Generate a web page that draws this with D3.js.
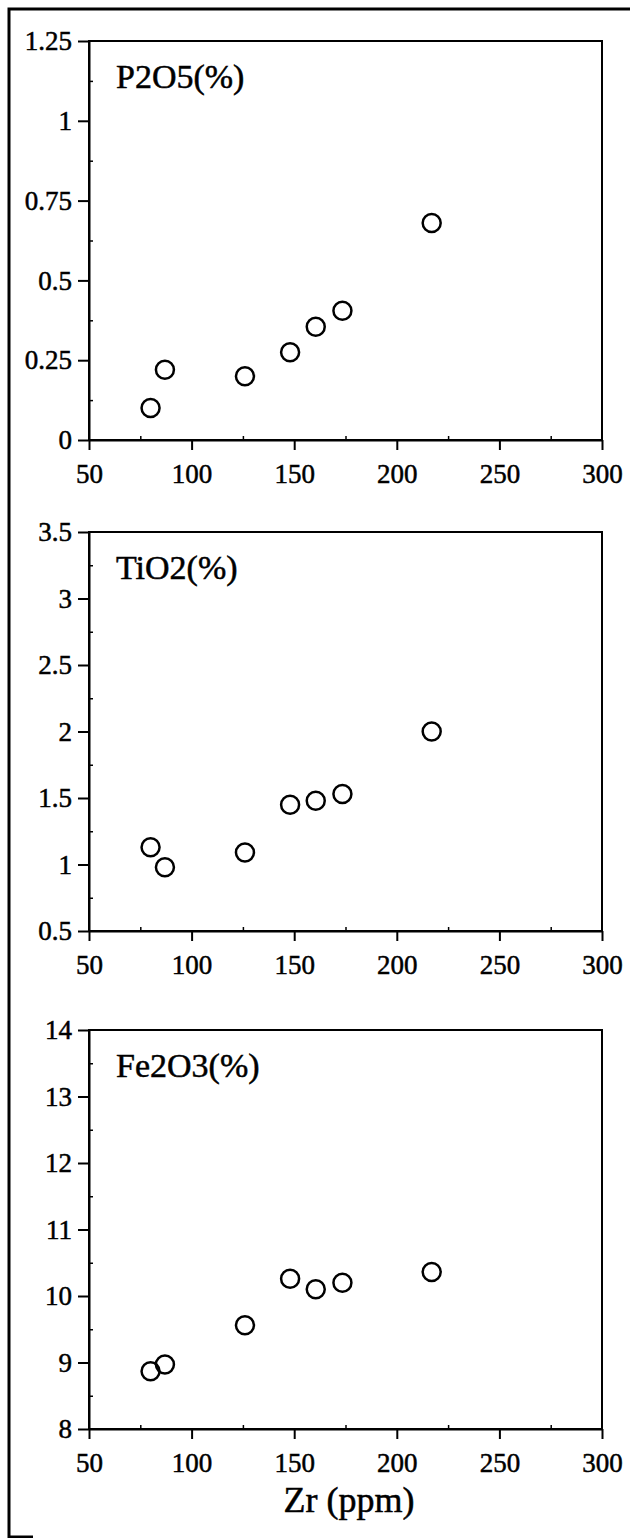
<!DOCTYPE html>
<html>
<head>
<meta charset="utf-8">
<script src="https://cdn.jsdelivr.net/npm/d3@7"></script>
<style>
    body { margin: 0; background: #fff; }
    svg text { font-family: "Liberation Serif", "Times New Roman", serif; fill: #000; stroke: #000; stroke-width: 0.5px; }
</style>
</head>
<body>
<div id="chart"></div>
<script>
// Zr (ppm) for the seven samples, shared by all three panels
const zr = [80, 87, 126, 148, 160.5, 173.5, 217];

const p2o5 = [0.10, 0.22, 0.20, 0.275, 0.355, 0.405, 0.68];
const tio2 = [1.13, 0.98, 1.09, 1.45, 1.48, 1.53, 2.00];
const fe2o3 = [8.87, 8.97, 9.56, 10.26, 10.10, 10.20, 10.36];

const xTicks = [50, 100, 150, 200, 250, 300];
const p2o5Ticks = [0, 0.25, 0.5, 0.75, 1, 1.25];
const tio2Ticks = [0.5, 1, 1.5, 2, 2.5, 3, 3.5];
const fe2o3Ticks = [8, 9, 10, 11, 12, 13, 14];

const panelTitles = ["P2O5(%)", "TiO2(%)", "Fe2O3(%)"];

class ScatterPanel {
    constructor(svg, top, title, values, yTicks) {
        this.svg = svg;
        this.top = top;
        this.title = title;
        this.values = values;
        this.yTicks = yTicks;
        this.initVis();
    }

    initVis() {
        let vis = this;

        vis.left = 89;
        vis.width = 513;
        vis.height = 399;

        vis.g = vis.svg.append("g")
            .attr("transform", "translate(" + vis.left + "," + vis.top + ")");

        vis.x = d3.scaleLinear()
            .domain([50, 300])
            .range([0, vis.width]);

        vis.y = d3.scaleLinear()
            .domain(d3.extent(vis.yTicks))
            .range([vis.height, 0]);

        // box round the plot
        vis.g.append("rect")
            .attr("width", vis.width)
            .attr("height", vis.height)
            .attr("fill", "none")
            .attr("stroke", "#000")
            .attr("stroke-width", 2);

        // minor ticks halfway between the labelled ones
        let xMinor = xTicks.slice(1).map((d, i) => (d + xTicks[i]) / 2);
        let yMinor = vis.yTicks.slice(1).map((d, i) => (d + vis.yTicks[i]) / 2);

        vis.g.append("g")
            .attr("class", "minor")
            .attr("transform", "translate(0," + vis.height + ")")
            .call(d3.axisBottom(vis.x).tickValues(xMinor).tickSize(-4).tickFormat(""));

        vis.g.append("g")
            .attr("class", "minor")
            .call(d3.axisLeft(vis.y).tickValues(yMinor).tickSize(-4).tickFormat(""));

        vis.g.append("g")
            .attr("class", "axis")
            .attr("transform", "translate(0," + vis.height + ")")
            .call(d3.axisBottom(vis.x)
                .tickValues(xTicks)
                .tickSize(10)
                .tickSizeOuter(0)
                .tickPadding(14)
                .tickFormat(d3.format("d")));

        vis.g.append("g")
            .attr("class", "axis")
            .call(d3.axisLeft(vis.y)
                .tickValues(vis.yTicks)
                .tickSize(11)
                .tickSizeOuter(0)
                .tickPadding(6)
                .tickFormat(d => String(d)));

        vis.g.selectAll(".axis, .minor")
            .attr("font-family", null)
            .attr("font-size", null);
        vis.g.selectAll(".axis path, .axis line")
            .attr("stroke", "#000")
            .attr("stroke-width", 2);
        vis.g.selectAll(".minor path").remove();
        vis.g.selectAll(".minor line")
            .attr("stroke", "#000")
            .attr("stroke-width", 1.5);
        vis.g.selectAll(".axis text")
            .style("font-size", "27px")
            .attr("fill", "#000");

        vis.g.append("text")
            .attr("x", 27)
            .attr("y", 47)
            .style("font-size", "34px")
            .text(vis.title);

        vis.updateVis();
    }

    updateVis() {
        let vis = this;

        vis.g.selectAll(".dot")
            .data(zr.map((z, i) => ({zr: z, v: vis.values[i]})))
            .enter()
            .append("circle")
            .attr("class", "dot")
            .attr("cx", d => vis.x(d.zr))
            .attr("cy", d => vis.y(d.v))
            .attr("r", 9)
            .attr("fill", "none")
            .attr("stroke", "#000")
            .attr("stroke-width", 2.5);
    }
}

const svg = d3.select("#chart").append("svg")
    .attr("width", 630)
    .attr("height", 1538);

// outer frame: top and left edge plus a short stub at the bottom
svg.append("path")
    .attr("d", "M630,9 H9 V1537 H33")
    .attr("fill", "none")
    .attr("stroke", "#000")
    .attr("stroke-width", 3);

new ScatterPanel(svg, 41, panelTitles[0], p2o5, p2o5Ticks);
new ScatterPanel(svg, 532, panelTitles[1], tio2, tio2Ticks);
new ScatterPanel(svg, 1030, panelTitles[2], fe2o3, fe2o3Ticks);

svg.append("text")
    .attr("x", 349)
    .attr("y", 1512)
    .attr("text-anchor", "middle")
    .style("font-size", "36px")
    .text("Zr (ppm)");
</script>
</body>
</html>
